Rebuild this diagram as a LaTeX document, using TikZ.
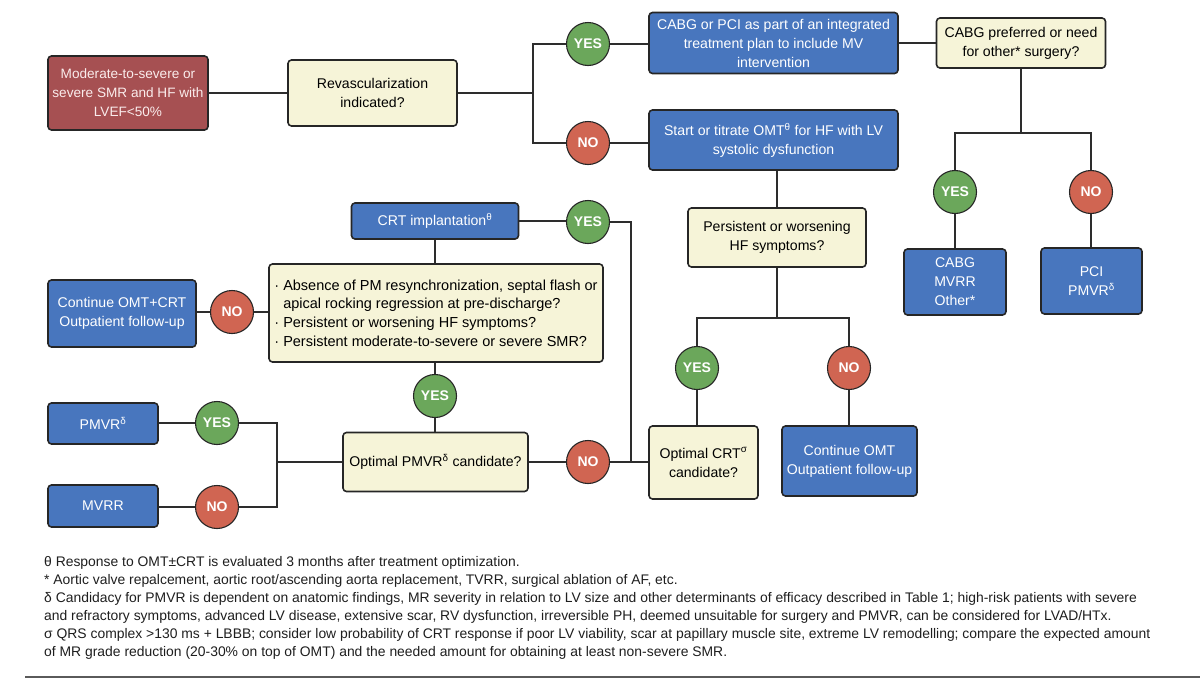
\documentclass[tikz,border=0pt]{standalone}
\usepackage{fontspec}
\setmainfont{Liberation Sans}
\definecolor{bluec}{RGB}{72,118,190}
\definecolor{yellowc}{RGB}{246,244,216}
\definecolor{greenc}{RGB}{107,167,91}
\definecolor{redc}{RGB}{208,101,82}
\definecolor{redboxc}{RGB}{166,80,82}
\definecolor{bordc}{RGB}{38,38,38}
\definecolor{linec}{RGB}{45,45,45}
\definecolor{notec}{RGB}{30,30,30}
\tikzset{
 box/.style={rectangle, rounded corners=3.5pt, draw=bordc, line width=1.6pt, align=center, inner sep=2pt, font=\fontsize{14.1}{19}\selectfont},
 bluebox/.style={box, fill=bluec, text=white},
 ybox/.style={box, fill=yellowc, text=black},
 redbox/.style={box, fill=redboxc, text={rgb,255:red,250;green,236;blue,236}, font=\fontsize{13.6}{19}\selectfont},
 yesc/.style={circle, draw=bordc, line width=1.1pt, fill=greenc, text=white, minimum size=43pt, inner sep=0pt, font=\fontsize{14}{16}\selectfont\bfseries},
 noc/.style={yesc, fill=redc},
 conn/.style={draw=linec, line width=1.6pt},
 note/.style={anchor=west, inner sep=0pt, text=notec, font=\fontsize{13.9}{16}\selectfont},
}
\begin{document}
\begin{tikzpicture}[x=1pt,y=-1pt]
\useasboundingbox (0,0) rectangle (1200,678);
% top row
\node[redbox, minimum width=160pt, minimum height=74pt] (start) at (128,93) {Moderate-to-severe or\\severe SMR and HF with\\LVEF<50\%};
\node[ybox, minimum width=169pt, minimum height=66pt] (revasc) at (372.5,93) {Revascularization\\indicated?};
\node[yesc] (yes1) at (588,44) {YES};
\node[noc] (no1) at (588,143) {NO};
\node[bluebox, minimum width=249pt, minimum height=61pt] (cabgpci) at (773.5,43) {CABG or PCI as part of an integrated\\treatment plan to include MV\\intervention};
\node[bluebox, minimum width=249pt, minimum height=60pt] (omt) at (773.5,140) {Start or titrate OMT\textsuperscript{θ} for HF with LV\\systolic dysfunction};
\node[ybox, minimum width=169pt, minimum height=50pt] (cabgpref) at (1021,43) {CABG preferred or need\\for other* surgery?};
\node[yesc] (yes2) at (955,192) {YES};
\node[noc] (no2) at (1091,192) {NO};
\node[bluebox, minimum width=102pt, minimum height=66pt] (cabgmvrr) at (955,282) {CABG\\MVRR\\Other*};
\node[bluebox, minimum width=101pt, minimum height=66pt] (pcipmvr) at (1091.5,281) {PCI\\PMVR\textsuperscript{δ}};
% middle
\node[ybox, minimum width=178pt, minimum height=59pt] (persist) at (777,237.5) {Persistent or worsening\\HF symptoms?};
\node[yesc] (yes3) at (697,368) {YES};
\node[noc] (no3) at (849,368) {NO};
\node[ybox, minimum width=109pt, minimum height=73pt] (optcrt) at (703.5,462.5) {Optimal CRT\textsuperscript{σ}\\candidate?};
\node[bluebox, minimum width=135pt, minimum height=70pt] (contomt) at (849.5,461) {Continue OMT\\Outpatient follow-up};
% left part
\node[bluebox, minimum width=167pt, minimum height=36pt] (crt) at (435,221) {CRT implantation\textsuperscript{θ}};
\node[yesc] (yesC) at (588,222) {YES};
\node[ybox, minimum width=334pt, minimum height=98pt, align=left, font=\fontsize{14.5}{18.6}\selectfont] (bullet) at (436,313)
 {\textperiodcentered\ Absence of PM resynchronization, septal flash or\\
  \phantom{\textperiodcentered\ }apical rocking regression at pre-discharge?\\
  \textperiodcentered\ Persistent or worsening HF symptoms?\\
  \textperiodcentered\ Persistent moderate-to-severe or severe SMR?};
\node[bluebox, minimum width=148pt, minimum height=67pt] (contcrt) at (122,313.5) {Continue OMT+CRT\\Outpatient follow-up};
\node[noc] (noB) at (232,312) {NO};
\node[yesc] (yesB) at (435,396) {YES};
\node[ybox, minimum width=185pt, minimum height=59pt] (optpmvr) at (435.5,462) {Optimal PMVR\textsuperscript{δ} candidate?};
\node[noc] (noP) at (588,462) {NO};
\node[bluebox, minimum width=110pt, minimum height=41pt] (pmvr) at (103,423.5) {PMVR\textsuperscript{δ}};
\node[bluebox, minimum width=110pt, minimum height=42pt] (mvrr) at (103,506) {MVRR};
\node[yesc] (yesM) at (217,423) {YES};
\node[noc] (noM) at (217,507) {NO};
% junctions
\coordinate (j1) at (533,93);
\coordinate (j2) at (1021,133);
\coordinate (j3) at (777,318);
\coordinate (j4) at (631,462);
\coordinate (j5) at (277,462);
% connectors
\draw[conn] (start.east) -- (revasc.west);
\draw[conn] (revasc.east) -- (j1);
\draw[conn] (yes1.west) -| (j1) |- (no1.west);
\draw[conn] (yes1.east) -- (yes1.east -| cabgpci.west);
\draw[conn] (no1.east) -- (no1.east -| omt.west);
\draw[conn] (cabgpci.east |- cabgpref.west) -- (cabgpref.west);
\draw[conn] (cabgpref.south) -- (j2);
\draw[conn] (yes2.north) |- (j2) -| (no2.north);
\draw[conn] (yes2.south) -- (cabgmvrr.north);
\draw[conn] (no2.south) -- (no2.south |- pcipmvr.north);
\draw[conn] (persist.north |- omt.south) -- (persist.north);
\draw[conn] (persist.south) -- (j3);
\draw[conn] (yes3.north) |- (j3) -| (no3.north);
\draw[conn] (yes3.south) -- (yes3.south |- optcrt.north);
\draw[conn] (no3.south) -- (no3.south |- contomt.north);
\draw[conn] (crt.east) -- (crt.east -| yesC.west);
\draw[conn] (yesC.east) -| (j4) -- (j4 -| optcrt.west);
\draw[conn] (optpmvr.east |- noP.west) -- (noP.west);
\draw[conn] (noP.east) -- (j4);
\draw[conn] (crt.south) -- (crt.south |- bullet.north);
\draw[conn] (bullet.west |- noB.east) -- (noB.east);
\draw[conn] (noB.west) -- (noB.west -| contcrt.east);
\draw[conn] (yesB.north |- bullet.south) -- (yesB.north);
\draw[conn] (yesB.south) -- (yesB.south |- optpmvr.north);
\draw[conn] (optpmvr.west) -- (j5);
\draw[conn] (yesM.east) -| (j5) |- (noM.east);
\draw[conn] (pmvr.east |- yesM.west) -- (yesM.west);
\draw[conn] (mvrr.east |- noM.west) -- (noM.west);
% footnotes
\node[note] (n1) at (44,563) {θ Response to OMT±CRT is evaluated 3 months after treatment optimization.};
\node[note] (n2) at (44,581) {* Aortic valve repalcement, aortic root/ascending aorta replacement, TVRR, surgical ablation of AF, etc.};
\node[note] (n3) at (44,599) {δ Candidacy for PMVR is dependent on anatomic findings, MR severity in relation to LV size and other determinants of efficacy described in Table 1; high-risk patients with severe};
\node[note] (n4) at (44,617) {and refractory symptoms, advanced LV disease, extensive scar, RV dysfunction, irreversible PH, deemed unsuitable for surgery and PMVR, can be considered for LVAD/HTx.};
\node[note] (n5) at (44,635) {σ QRS complex >130 ms + LBBB; consider low probability of CRT response if poor LV viability, scar at papillary muscle site, extreme LV remodelling; compare the expected amount};
\node[note] (n6) at (44,653) {of MR grade reduction (20-30\% on top of OMT) and the needed amount for obtaining at least non-severe SMR.};
\coordinate (r1) at (25,676.5);
\coordinate (r2) at (1200,676.5);
\draw[draw={rgb,255:red,90;green,90;blue,90}, line width=2pt] (r1) -- (r2);
\end{tikzpicture}
\end{document}
